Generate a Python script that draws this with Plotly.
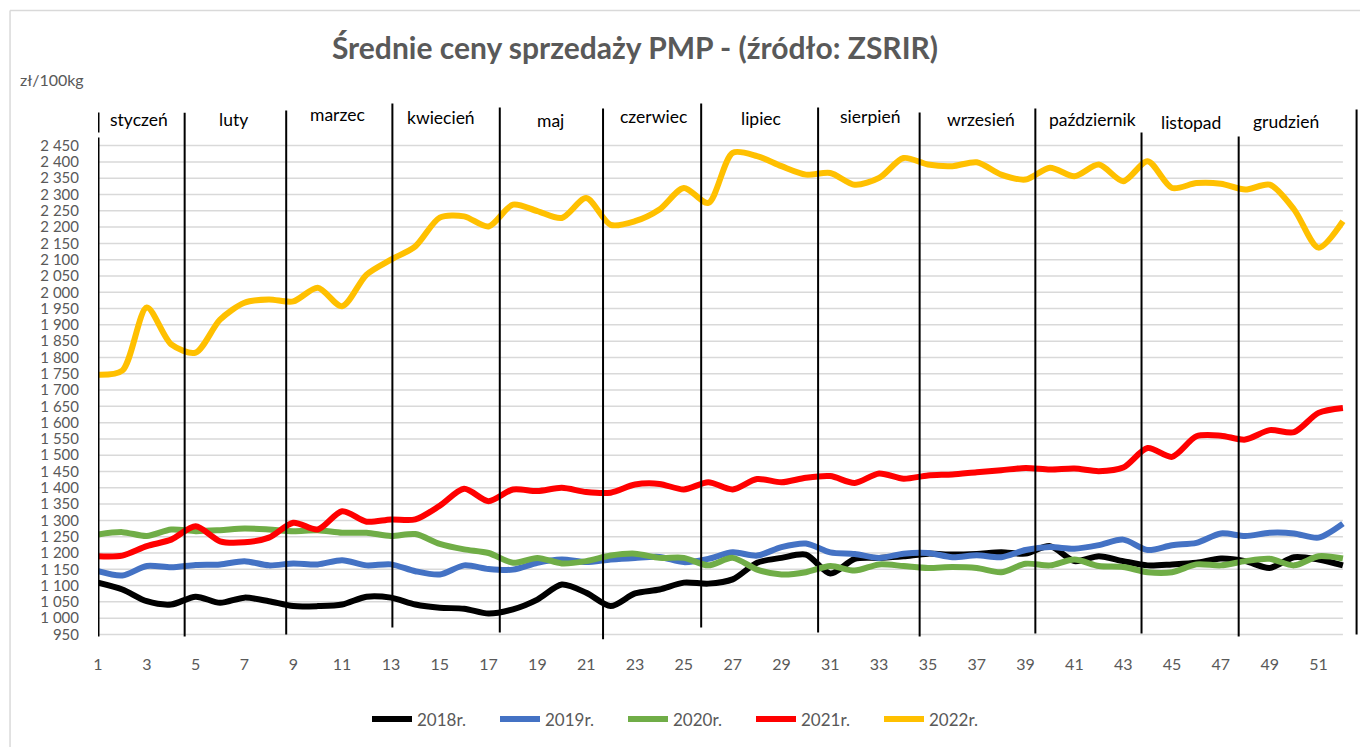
import plotly.graph_objects as go

weeks = list(range(1, 53))

y2018 = [1109, 1088, 1052, 1042, 1066, 1047, 1063, 1052, 1037, 1037,
         1042, 1066, 1063, 1042, 1032, 1029, 1014, 1027, 1057, 1103,
         1078, 1037, 1076, 1088, 1109, 1106, 1119, 1170, 1185, 1195,
         1137, 1182, 1185, 1190, 1198, 1195, 1197, 1202, 1198, 1221,
         1175, 1190, 1175, 1162, 1165, 1170, 1183, 1175, 1154, 1187,
         1180, 1162]
y2019 = [1144, 1131, 1160, 1156, 1163, 1165, 1175, 1162, 1168, 1165,
         1178, 1162, 1165, 1144, 1134, 1162, 1151, 1149, 1170, 1180,
         1172, 1180, 1185, 1188, 1172, 1182, 1202, 1192, 1218, 1229,
         1202, 1197, 1185, 1198, 1200, 1187, 1193, 1187, 1209, 1218,
         1213, 1224, 1241, 1209, 1224, 1231, 1260, 1252, 1262, 1260,
         1247, 1290]
y2020 = [1257, 1264, 1252, 1272, 1267, 1270, 1275, 1272, 1267, 1270,
         1262, 1262, 1252, 1258, 1228, 1211, 1200, 1170, 1185, 1168,
         1175, 1192, 1198, 1185, 1185, 1162, 1185, 1149, 1134, 1141,
         1160, 1146, 1165, 1160, 1154, 1157, 1154, 1141, 1167, 1162,
         1180, 1160, 1157, 1141, 1141, 1165, 1162, 1175, 1182, 1162,
         1190, 1183]
y2021 = [1190, 1192, 1221, 1241, 1282, 1236, 1233, 1247, 1293, 1272,
         1328, 1296, 1303, 1303, 1345, 1397, 1359, 1395, 1390, 1400,
         1387, 1385, 1410, 1412, 1395, 1417, 1395, 1427, 1417, 1431,
         1436, 1415, 1444, 1428, 1438, 1441, 1448, 1454, 1461, 1456,
         1459, 1451, 1462, 1522, 1495, 1558, 1560, 1548, 1577, 1571,
         1630, 1645]
y2022 = [1747, 1760, 1953, 1840, 1815, 1916, 1968, 1978, 1972, 2014,
         1957, 2054, 2100, 2141, 2229, 2233, 2202, 2269, 2249, 2228,
         2289, 2207, 2218, 2254, 2320, 2274, 2428, 2418, 2387, 2361,
         2366, 2330, 2351, 2412, 2392, 2387, 2399, 2361, 2346, 2382,
         2356, 2392, 2341, 2402, 2320, 2335, 2333, 2315, 2330, 2254,
         2137, 2218]

series_names = ["2018r.", "2019r.", "2020r.", "2021r.", "2022r."]
series_values = [y2018, y2019, y2020, y2021, y2022]
series_colors = ["#000000", "#4472C4", "#70AD47", "#FF0000", "#FFC000"]

y_ticks = list(range(950, 2451, 50))
x_ticks = list(range(1, 52, 2))

months = ["styczeń", "luty", "marzec", "kwiecień", "maj", "czerwiec",
          "lipiec", "sierpień", "wrzesień", "październik", "listopad", "grudzień"]
month_label_x = [2.69, 6.55, 10.81, 15.07, 19.54, 23.76,
                 28.18, 32.61, 37.16, 41.75, 45.77, 49.66]
month_label_y = [2530, 2530, 2545, 2537, 2528, 2540, 2534, 2540, 2530, 2530, 2522, 2525]

divider_x = [4.55, 8.71, 13.06, 17.46, 21.69, 25.71, 30.50, 34.66, 39.40, 43.75, 47.73, 52.56]
divider_top = [2551, 2558, 2579, 2567, 2564, 2579, 2567, 2552, 2564, 2490, 2478, 2561]
divider_bottom = [944, 950, 971, 956, 935, 971, 956, 944, 953, 953, 944, 950]
first_divider = [(2490, 2552), (944, 2475)]

fmt = lambda v: f"{v:,}".replace(",", " ")

fig = go.Figure()
for name, vals, col in zip(series_names, series_values, series_colors):
    fig.add_trace(go.Scatter(
        x=weeks, y=vals, name=name, mode="lines",
        line=dict(color=col, width=6, shape="spline", smoothing=0.8),
    ))

shapes = []
for v in y_ticks:
    shapes.append(dict(type="line", xref="x", yref="y", x0=1, x1=52, y0=v, y1=v,
                       line=dict(color="#D9D9D9", width=1.5), layer="below"))
for (b, t) in first_divider:
    shapes.append(dict(type="line", xref="x", yref="y", x0=1.02, x1=1.02, y0=b, y1=t,
                       line=dict(color="#000000", width=2), layer="above"))
for xv, t, b in zip(divider_x, divider_top, divider_bottom):
    shapes.append(dict(type="line", xref="x", yref="y", x0=xv, x1=xv, y0=b, y1=t,
                       line=dict(color="#000000", width=2), layer="above"))
# chart frame
shapes.append(dict(type="line", xref="paper", yref="paper", x0=-0.0697, x1=-0.0697,
                   y0=1.1657, y1=-0.3, line=dict(color="#D9D9D9", width=1.5)))
shapes.append(dict(type="line", xref="paper", yref="paper", x0=-0.0697, x1=1.1,
                   y0=1.1657, y1=1.1657, line=dict(color="#D9D9D9", width=1.5)))

annotations = []
for m, xv, yv in zip(months, month_label_x, month_label_y):
    annotations.append(dict(x=xv, y=yv, xref="x", yref="y", text=m, showarrow=False,
                            font=dict(family="Lato", size=17.5, color="#000000")))
annotations.append(dict(x=(18 - 98) / 1262, y=(640.5 - 80) / 540, xref="paper", yref="paper",
                        text="zł/100kg", showarrow=False, xanchor="left", yanchor="middle",
                        font=dict(family="Lato", size=16, color="#595959")))

fig.update_layout(
    width=1360, height=747,
    margin=dict(l=98, r=0, t=100, b=107),
    paper_bgcolor="white", plot_bgcolor="white",
    title=dict(text="<b>Średnie ceny sprzedaży PMP - (źródło: ZSRIR)</b>",
               x=635 / 1360, xanchor="center", y=1 - 48 / 747, yanchor="middle",
               font=dict(family="Lato", size=30, color="#595959")),
    xaxis=dict(range=[1, 52.7], tickvals=x_ticks, ticktext=[str(t) for t in x_ticks],
               showgrid=False, zeroline=False, showline=False,
               ticks="outside", ticklen=10, tickcolor="rgba(0,0,0,0)",
               tickfont=dict(family="Lato", size=16, color="#595959")),
    yaxis=dict(range=[933, 2590], tickvals=y_ticks, ticktext=[fmt(v) for v in y_ticks],
               showgrid=False, zeroline=False, showline=False,
               ticks="outside", ticklen=15, tickcolor="rgba(0,0,0,0)",
               tickfont=dict(family="Lato", size=15, color="#595959")),
    legend=dict(orientation="h", x=(687 - 98) / 1262, xanchor="center",
                y=(640.5 - 720) / 540, yanchor="middle",
                font=dict(family="Lato", size=17, color="#595959"),
                itemwidth=40, entrywidth=73, entrywidthmode="pixels", tracegroupgap=0),
    shapes=shapes, annotations=annotations, showlegend=True,
)

fig.write_html("out.html", config={"displayModeBar": False},
               post_script="document.body.style.margin='0';")
